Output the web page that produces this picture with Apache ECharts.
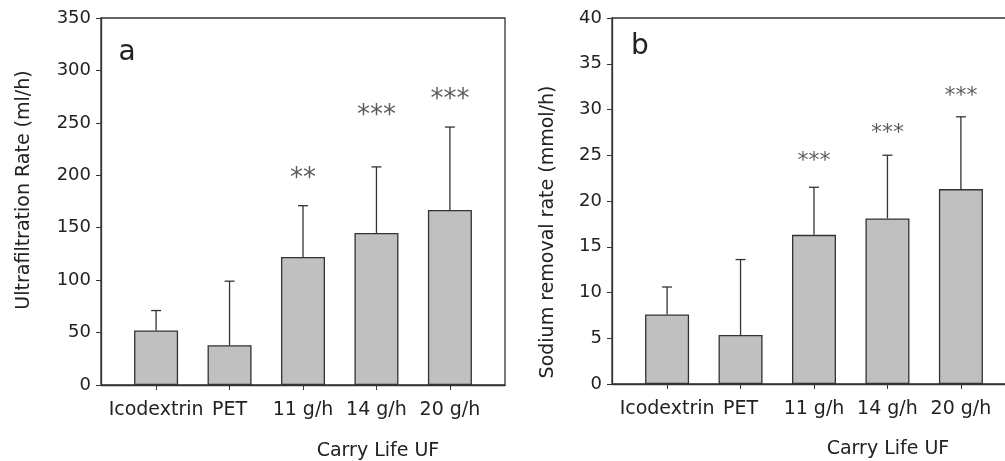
<!DOCTYPE html>
<html>
<head>
<meta charset="utf-8">
<script src="https://cdn.jsdelivr.net/npm/echarts@6/dist/echarts.min.js"></script>
<style>
  html, body { margin: 0; padding: 0; background: #fff; }
  #main { width: 1005px; height: 461px; }
</style>
</head>
<body>
<div id="main"></div>
<script type="text/javascript">
// 类目
var categories = ['Icodextrin', 'PET', '11 g/h', '14 g/h', '20 g/h'];
var catPos = [0, 1, 2, 3, 4];

// 图 a：超滤率 (ml/h)
var ufMean = [52, 38, 122, 145, 167];
var ufUpper = [71, 99, 171, 208, 246];
var ufStars = ['', '', '**', '***', '***'];
var ufStarY = [0, 0, 196, 256, 272];

// 图 b：钠清除率 (mmol/h)
var naMean = [7.6, 5.35, 16.3, 18.1, 21.3];
var naUpper = [10.6, 13.6, 21.5, 25.0, 29.2];
var naStars = ['', '', '***', '***', '***'];
var naStarY = [0, 0, 24.3, 27.4, 31.4];

var FONT = 'DejaVu Sans';
var LINE = '#333';
var TXT = '#222';

function pairs(vals) {
    return vals.map(function (v, i) { return [catPos[i], v]; });
}
function errData(mean, upper) {
    return mean.map(function (v, i) { return [catPos[i], v, upper[i]]; });
}
function starData(ys, stars) {
    var out = [];
    stars.forEach(function (s, i) {
        if (s) out.push({ value: [catPos[i], ys[i]], stars: s });
    });
    return out;
}

// 误差线（只画上半部分）
function renderErr(params, api) {
    var x = api.value(0);
    var p0 = api.coord([x, api.value(1)]);
    var p1 = api.coord([x, api.value(2)]);
    var cap = 5;
    var style = { stroke: LINE, lineWidth: 1.3 };
    return {
        type: 'group',
        children: [
            { type: 'line', shape: { x1: p0[0], y1: p0[1], x2: p1[0], y2: p1[1] }, style: style },
            { type: 'line', shape: { x1: p1[0] - cap, y1: p1[1], x2: p1[0] + cap, y2: p1[1] }, style: style }
        ]
    };
}

function xAxisCfg(gridIndex) {
    return {
        type: 'value', gridIndex: gridIndex, min: -0.75, max: 4.75,
        axisLine: { onZero: false, lineStyle: { color: LINE, width: 1.3 } },
        axisTick: { show: true, length: 5, customValues: catPos, lineStyle: { color: LINE } },
        axisLabel: {
            customValues: catPos, margin: 16,
            fontFamily: FONT, fontSize: 19, color: TXT,
            formatter: function (v) { return categories[Math.round(v)]; }
        },
        splitLine: { show: false }
    };
}
function yAxisCfg(gridIndex, max, interval) {
    return {
        type: 'value', gridIndex: gridIndex, min: 0, max: max, interval: interval,
        axisLine: { show: true, onZero: false, lineStyle: { color: LINE, width: 1.3 } },
        axisTick: { show: true, length: 5, lineStyle: { color: LINE } },
        axisLabel: { fontFamily: FONT, fontSize: 18, color: TXT, margin: 10 },
        splitLine: { show: false }
    };
}

var barStyle = { color: '#c0c0c0', borderColor: LINE, borderWidth: 1.3 };
function starLabel(size) {
    return {
        show: true, position: 'inside', fontFamily: FONT, fontSize: size, color: '#333',
        formatter: function (p) { return p.data.stars; }
    };
}

var chart = echarts.init(document.getElementById('main'));
chart.setOption({
    animation: false,
    grid: [
        { left: 101, top: 18, width: 404, height: 367, outerBoundsMode: 'none', containLabel: false,
          show: true, borderColor: LINE, borderWidth: 1.3 },
        // 右图超出画布右边缘（原图被裁切）
        { left: 612, top: 18, width: 404, height: 366, outerBoundsMode: 'none', containLabel: false,
          show: true, borderColor: LINE, borderWidth: 1.3 }
    ],
    xAxis: [xAxisCfg(0), xAxisCfg(1)],
    yAxis: [yAxisCfg(0, 350, 50), yAxisCfg(1, 40, 5)],
    series: [
        { type: 'bar', xAxisIndex: 0, yAxisIndex: 0, barWidth: 44, data: pairs(ufMean), itemStyle: barStyle },
        { type: 'custom', xAxisIndex: 0, yAxisIndex: 0, data: errData(ufMean, ufUpper), renderItem: renderErr, z: 3 },
        { type: 'scatter', xAxisIndex: 0, yAxisIndex: 0, symbolSize: 1, itemStyle: { color: 'rgba(0,0,0,0)' },
          data: starData(ufStarY, ufStars), label: starLabel(26) },
        { type: 'bar', xAxisIndex: 1, yAxisIndex: 1, barWidth: 44, data: pairs(naMean), itemStyle: barStyle },
        { type: 'custom', xAxisIndex: 1, yAxisIndex: 1, data: errData(naMean, naUpper), renderItem: renderErr, z: 3 },
        { type: 'scatter', xAxisIndex: 1, yAxisIndex: 1, symbolSize: 1, itemStyle: { color: 'rgba(0,0,0,0)' },
          data: starData(naStarY, naStars), label: starLabel(22) }
    ],
    graphic: [
        { type: 'text', x: 127, y: 53, style: { text: 'a', font: '28px "DejaVu Sans"', fill: TXT, align: 'center', verticalAlign: 'middle' } },
        { type: 'text', x: 640, y: 47, style: { text: 'b', font: '28px "DejaVu Sans"', fill: TXT, align: 'center', verticalAlign: 'middle' } },
        { type: 'text', x: 24, y: 190, rotation: Math.PI / 2,
          style: { text: 'Ultrafiltration Rate (ml/h)', font: '19px "DejaVu Sans"', fill: TXT, align: 'center', verticalAlign: 'middle' } },
        { type: 'text', x: 548, y: 232, rotation: Math.PI / 2,
          style: { text: 'Sodium removal rate (mmol/h)', font: '19px "DejaVu Sans"', fill: TXT, align: 'center', verticalAlign: 'middle' } },
        { type: 'text', x: 378, y: 451, style: { text: 'Carry Life UF', font: '19px "DejaVu Sans"', fill: TXT, align: 'center', verticalAlign: 'middle' } },
        { type: 'text', x: 888, y: 449, style: { text: 'Carry Life UF', font: '19px "DejaVu Sans"', fill: TXT, align: 'center', verticalAlign: 'middle' } }
    ]
});
</script>
</body>
</html>
